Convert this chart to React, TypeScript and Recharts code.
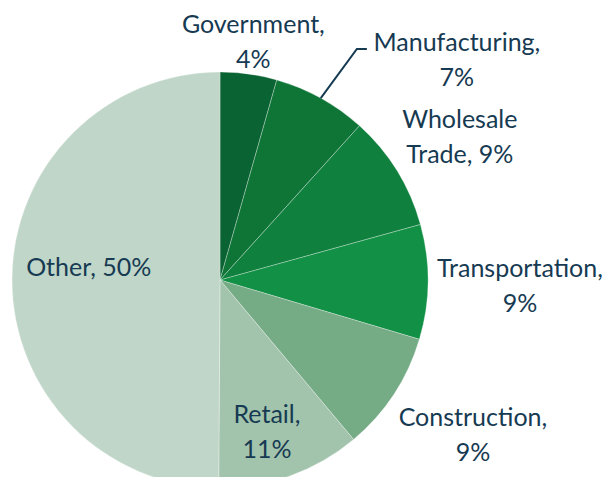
import { PieChart, Pie, Cell } from 'recharts';

const sectors = ['Government', 'Manufacturing', 'Wholesale Trade', 'Transportation', 'Construction', 'Retail', 'Other'];
const shares = [4.4, 7.3, 9.0, 8.9, 9.3, 11.2, 49.9];
const shareLabels = ['4%', '7%', '9%', '9%', '9%', '11%', '50%'];
// how each label is broken onto lines
const labelLines = [
  ['Government,', '4%'],
  ['Manufacturing,', '7%'],
  ['Wholesale', 'Trade, 9%'],
  ['Transportation,', '9%'],
  ['Construction,', '9%'],
  ['Retail,', '11%'],
  ['Other, 50%'],
];

const COLORS = ['#0a6332', '#0e7537', '#10803e', '#129045', '#75ab85', '#a3c4ac', '#c0d6c8'];
const TEXT = '#163a52';
// label placement: distance from centre and angle shift (deg, clockwise)
const LABEL_R = [242, 324, 280, 300, 296, 158, 132];
const LABEL_SHIFT = [0, 18, 0.6, 0.3, -2, 2.5, 6];

const data = sectors.map((name, i) => ({ name, value: shares[i], pct: shareLabels[i] }));

const RAD = Math.PI / 180;

function renderLabel(props: any) {
  const { cx, cy, midAngle, outerRadius, index } = props;
  // recharts angle -> clockwise from top
  const clock = 90 - midAngle + LABEL_SHIFT[index];
  const r = LABEL_R[index];
  const x = cx + r * Math.sin(clock * RAD);
  const y = cy - r * Math.cos(clock * RAD);
  const lines = labelLines[index];
  const lh = 35;
  const y0 = y - ((lines.length - 1) * lh) / 2;
  let leader = null;
  if (index === 1) {
    const m = (90 - midAngle) * RAD;
    const sx = cx + outerRadius * Math.sin(m);
    const sy = cy - outerRadius * Math.cos(m);
    leader = (
      <polyline
        points={`${sx},${sy} ${x - 100},${y - 10} ${x - 90},${y - 10}`}
        fill="none"
        stroke={TEXT}
        strokeWidth={2}
      />
    );
  }
  return (
    <g key={`label-${index}`}>
      {leader}
      <text
        x={x}
        y={y0}
        textAnchor="middle"
        dominantBaseline="central"
        fill={TEXT}
        fontSize={25}
        fontFamily="Lato, 'Noto Sans', sans-serif"
      >
        {lines.map((t, k) => (
          <tspan key={k} x={x} dy={k === 0 ? 0 : lh}>
            {t}
          </tspan>
        ))}
      </text>
    </g>
  );
}

export default function App() {
  return (
    <div style={{ margin: -8, width: 610, height: 485, background: '#fff', overflow: 'hidden' }}>
      <PieChart width={610} height={485} margin={{ top: 0, right: 0, bottom: 0, left: 0 }}>
        <Pie
          data={data}
          dataKey="value"
          nameKey="name"
          cx={220}
          cy={280}
          outerRadius={208}
          startAngle={90}
          endAngle={-270}
          stroke="#ffffff"
          strokeOpacity={0.6}
          strokeWidth={0.5}
          label={renderLabel}
          labelLine={false}
          isAnimationActive={false}
        >
          {data.map((_, i) => (
            <Cell key={`cell-${i}`} fill={COLORS[i]} />
          ))}
        </Pie>
      </PieChart>
    </div>
  );
}
